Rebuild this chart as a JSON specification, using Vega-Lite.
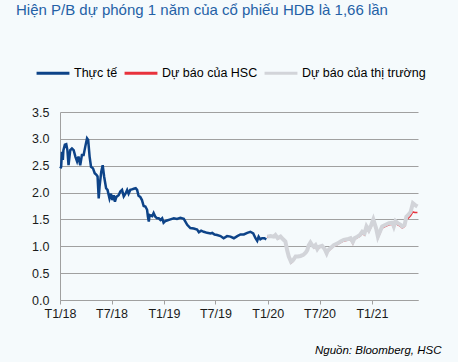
{
  "$schema": "https://vega.github.io/schema/vega-lite/v6.json",
  "width": 358,
  "height": 188,
  "autosize": {"type": "none"},
  "padding": {"left": 60, "top": 112, "right": 40, "bottom": 62},
  "background": "#f5fafc",
  "title": {
    "text": "Hiện P/B  dự phóng 1 năm của cổ phiếu HDB là 1,66 lần",
    "anchor": "start",
    "frame": "group",
    "dx": -44,
    "offset": 25,
    "baseline": "alphabetic",
    "font": "Liberation Sans",
    "fontSize": 15,
    "fontWeight": "normal",
    "color": "#2461a6"
  },
  "config": {
    "font": "Liberation Sans",
    "view": {"stroke": null}
  },
  "data": {
    "values": [
      {"d": "2018-01-02", "s": "Thực tế", "v": 2.45},
      {"d": "2018-01-05", "s": "Thực tế", "v": 2.48},
      {"d": "2018-01-08", "s": "Thực tế", "v": 2.76},
      {"d": "2018-01-11", "s": "Thực tế", "v": 2.61},
      {"d": "2018-01-13", "s": "Thực tế", "v": 2.79},
      {"d": "2018-01-18", "s": "Thực tế", "v": 2.89},
      {"d": "2018-01-23", "s": "Thực tế", "v": 2.90},
      {"d": "2018-01-27", "s": "Thực tế", "v": 2.79},
      {"d": "2018-01-31", "s": "Thực tế", "v": 2.51},
      {"d": "2018-02-06", "s": "Thực tế", "v": 2.79},
      {"d": "2018-02-12", "s": "Thực tế", "v": 2.82},
      {"d": "2018-02-18", "s": "Thực tế", "v": 2.79},
      {"d": "2018-02-24", "s": "Thực tế", "v": 2.67},
      {"d": "2018-03-02", "s": "Thực tế", "v": 2.58},
      {"d": "2018-03-07", "s": "Thực tế", "v": 2.67},
      {"d": "2018-03-13", "s": "Thực tế", "v": 2.51},
      {"d": "2018-03-19", "s": "Thực tế", "v": 2.70},
      {"d": "2018-03-25", "s": "Thực tế", "v": 2.70},
      {"d": "2018-03-31", "s": "Thực tế", "v": 2.86},
      {"d": "2018-04-06", "s": "Thực tế", "v": 3.01},
      {"d": "2018-04-10", "s": "Thực tế", "v": 2.98},
      {"d": "2018-04-15", "s": "Thực tế", "v": 2.67},
      {"d": "2018-04-20", "s": "Thực tế", "v": 2.48},
      {"d": "2018-04-27", "s": "Thực tế", "v": 2.45},
      {"d": "2018-05-03", "s": "Thực tế", "v": 2.36},
      {"d": "2018-05-09", "s": "Thực tế", "v": 2.33},
      {"d": "2018-05-13", "s": "Thực tế", "v": 2.30},
      {"d": "2018-05-17", "s": "Thực tế", "v": 1.89},
      {"d": "2018-05-20", "s": "Thực tế", "v": 2.11},
      {"d": "2018-05-26", "s": "Thực tế", "v": 2.39},
      {"d": "2018-05-31", "s": "Thực tế", "v": 2.51},
      {"d": "2018-06-05", "s": "Thực tế", "v": 2.30},
      {"d": "2018-06-12", "s": "Thực tế", "v": 2.08},
      {"d": "2018-06-17", "s": "Thực tế", "v": 2.05},
      {"d": "2018-06-24", "s": "Thực tế", "v": 1.89},
      {"d": "2018-06-29", "s": "Thực tế", "v": 1.98},
      {"d": "2018-07-04", "s": "Thực tế", "v": 1.86},
      {"d": "2018-07-09", "s": "Thực tế", "v": 1.95},
      {"d": "2018-07-13", "s": "Thực tế", "v": 1.83},
      {"d": "2018-07-18", "s": "Thực tế", "v": 1.92},
      {"d": "2018-07-26", "s": "Thực tế", "v": 1.95},
      {"d": "2018-08-01", "s": "Thực tế", "v": 2.02},
      {"d": "2018-08-07", "s": "Thực tế", "v": 2.05},
      {"d": "2018-08-13", "s": "Thực tế", "v": 1.93},
      {"d": "2018-08-19", "s": "Thực tế", "v": 1.98},
      {"d": "2018-08-25", "s": "Thực tế", "v": 2.05},
      {"d": "2018-08-30", "s": "Thực tế", "v": 1.98},
      {"d": "2018-09-05", "s": "Thực tế", "v": 2.05},
      {"d": "2018-09-11", "s": "Thực tế", "v": 2.06},
      {"d": "2018-09-17", "s": "Thực tế", "v": 2.07},
      {"d": "2018-09-24", "s": "Thực tế", "v": 2.08},
      {"d": "2018-09-29", "s": "Thực tế", "v": 2.05},
      {"d": "2018-10-04", "s": "Thực tế", "v": 1.94},
      {"d": "2018-10-10", "s": "Thực tế", "v": 1.92},
      {"d": "2018-10-16", "s": "Thực tế", "v": 1.86},
      {"d": "2018-10-22", "s": "Thực tế", "v": 1.75},
      {"d": "2018-10-28", "s": "Thực tế", "v": 1.74},
      {"d": "2018-11-03", "s": "Thực tế", "v": 1.68},
      {"d": "2018-11-06", "s": "Thực tế", "v": 1.55},
      {"d": "2018-11-09", "s": "Thực tế", "v": 1.46},
      {"d": "2018-11-12", "s": "Thực tế", "v": 1.58},
      {"d": "2018-11-21", "s": "Thực tế", "v": 1.56},
      {"d": "2018-11-26", "s": "Thực tế", "v": 1.62},
      {"d": "2018-12-02", "s": "Thực tế", "v": 1.55},
      {"d": "2018-12-08", "s": "Thực tế", "v": 1.52},
      {"d": "2018-12-14", "s": "Thực tế", "v": 1.52},
      {"d": "2018-12-20", "s": "Thực tế", "v": 1.49},
      {"d": "2018-12-26", "s": "Thực tế", "v": 1.52},
      {"d": "2018-12-31", "s": "Thực tế", "v": 1.44},
      {"d": "2019-01-06", "s": "Thực tế", "v": 1.47},
      {"d": "2019-01-12", "s": "Thực tế", "v": 1.48},
      {"d": "2019-01-24", "s": "Thực tế", "v": 1.50},
      {"d": "2019-02-05", "s": "Thực tế", "v": 1.52},
      {"d": "2019-02-16", "s": "Thực tế", "v": 1.51},
      {"d": "2019-02-28", "s": "Thực tế", "v": 1.53},
      {"d": "2019-03-12", "s": "Thực tế", "v": 1.51},
      {"d": "2019-03-24", "s": "Thực tế", "v": 1.40},
      {"d": "2019-04-04", "s": "Thực tế", "v": 1.34},
      {"d": "2019-04-16", "s": "Thực tế", "v": 1.33},
      {"d": "2019-04-28", "s": "Thực tế", "v": 1.31},
      {"d": "2019-05-04", "s": "Thực tế", "v": 1.26},
      {"d": "2019-05-12", "s": "Thực tế", "v": 1.29},
      {"d": "2019-05-21", "s": "Thực tế", "v": 1.27},
      {"d": "2019-06-02", "s": "Thực tế", "v": 1.25},
      {"d": "2019-06-14", "s": "Thực tế", "v": 1.24},
      {"d": "2019-06-20", "s": "Thực tế", "v": 1.25},
      {"d": "2019-06-28", "s": "Thực tế", "v": 1.22},
      {"d": "2019-07-07", "s": "Thực tế", "v": 1.21},
      {"d": "2019-07-19", "s": "Thực tế", "v": 1.19},
      {"d": "2019-07-30", "s": "Thực tế", "v": 1.15},
      {"d": "2019-08-11", "s": "Thực tế", "v": 1.19},
      {"d": "2019-08-23", "s": "Thực tế", "v": 1.18},
      {"d": "2019-09-04", "s": "Thực tế", "v": 1.15},
      {"d": "2019-09-16", "s": "Thực tế", "v": 1.19},
      {"d": "2019-09-27", "s": "Thực tế", "v": 1.22},
      {"d": "2019-10-09", "s": "Thực tế", "v": 1.22},
      {"d": "2019-10-21", "s": "Thực tế", "v": 1.25},
      {"d": "2019-11-01", "s": "Thực tế", "v": 1.27},
      {"d": "2019-11-11", "s": "Thực tế", "v": 1.24},
      {"d": "2019-11-19", "s": "Thực tế", "v": 1.15},
      {"d": "2019-11-25", "s": "Thực tế", "v": 1.10},
      {"d": "2019-11-30", "s": "Thực tế", "v": 1.18},
      {"d": "2019-12-06", "s": "Thực tế", "v": 1.13},
      {"d": "2019-12-12", "s": "Thực tế", "v": 1.15},
      {"d": "2019-12-20", "s": "Thực tế", "v": 1.15},
      {"d": "2019-12-27", "s": "Thực tế", "v": 1.13},

      {"d": "2019-12-30", "s": "Dự báo của thị trường", "v": 1.18},
      {"d": "2020-01-11", "s": "Dự báo của thị trường", "v": 1.19},
      {"d": "2020-01-22", "s": "Dự báo của thị trường", "v": 1.18},
      {"d": "2020-01-28", "s": "Dự báo của thị trường", "v": 1.21},
      {"d": "2020-02-05", "s": "Dự báo của thị trường", "v": 1.15},
      {"d": "2020-02-15", "s": "Dự báo của thị trường", "v": 1.18},
      {"d": "2020-02-24", "s": "Dự báo của thị trường", "v": 1.13},
      {"d": "2020-03-03", "s": "Dự báo của thị trường", "v": 1.09},
      {"d": "2020-03-09", "s": "Dự báo của thị trường", "v": 0.93},
      {"d": "2020-03-15", "s": "Dự báo của thị trường", "v": 0.81},
      {"d": "2020-03-23", "s": "Dự báo của thị trường", "v": 0.71},
      {"d": "2020-03-30", "s": "Dự báo của thị trường", "v": 0.74},
      {"d": "2020-04-08", "s": "Dự báo của thị trường", "v": 0.81},
      {"d": "2020-04-16", "s": "Dự báo của thị trường", "v": 0.81},
      {"d": "2020-04-25", "s": "Dự báo của thị trường", "v": 0.82},
      {"d": "2020-05-05", "s": "Dự báo của thị trường", "v": 0.84},
      {"d": "2020-05-13", "s": "Dự báo của thị trường", "v": 0.88},
      {"d": "2020-05-19", "s": "Dự báo của thị trường", "v": 0.93},
      {"d": "2020-05-24", "s": "Dự báo của thị trường", "v": 1.02},
      {"d": "2020-05-30", "s": "Dự báo của thị trường", "v": 1.07},
      {"d": "2020-06-05", "s": "Dự báo của thị trường", "v": 1.02},
      {"d": "2020-06-11", "s": "Dự báo của thị trường", "v": 0.99},
      {"d": "2020-06-17", "s": "Dự báo của thị trường", "v": 1.02},
      {"d": "2020-06-23", "s": "Dự báo của thị trường", "v": 0.95},
      {"d": "2020-06-28", "s": "Dự báo của thị trường", "v": 0.99},
      {"d": "2020-07-04", "s": "Dự báo của thị trường", "v": 1.00},
      {"d": "2020-07-10", "s": "Dự báo của thị trường", "v": 1.01},
      {"d": "2020-07-19", "s": "Dự báo của thị trường", "v": 0.95},
      {"d": "2020-07-26", "s": "Dự báo của thị trường", "v": 0.87},
      {"d": "2020-07-30", "s": "Dự báo của thị trường", "v": 0.92},
      {"d": "2020-08-09", "s": "Dự báo của thị trường", "v": 0.97},
      {"d": "2020-08-20", "s": "Dự báo của thị trường", "v": 1.02},
      {"d": "2020-09-01", "s": "Dự báo của thị trường", "v": 1.05},
      {"d": "2020-09-13", "s": "Dự báo của thị trường", "v": 1.09},
      {"d": "2020-09-24", "s": "Dự báo của thị trường", "v": 1.12},
      {"d": "2020-10-06", "s": "Dự báo của thị trường", "v": 1.13},
      {"d": "2020-10-18", "s": "Dự báo của thị trường", "v": 1.15},
      {"d": "2020-10-26", "s": "Dự báo của thị trường", "v": 1.08},
      {"d": "2020-11-01", "s": "Dự báo của thị trường", "v": 1.15},
      {"d": "2020-11-11", "s": "Dự báo của thị trường", "v": 1.18},
      {"d": "2020-11-20", "s": "Dự báo của thị trường", "v": 1.21},
      {"d": "2020-11-28", "s": "Dự báo của thị trường", "v": 1.27},
      {"d": "2020-12-06", "s": "Dự báo của thị trường", "v": 1.24},
      {"d": "2020-12-13", "s": "Dự báo của thị trường", "v": 1.37},
      {"d": "2020-12-21", "s": "Dự báo của thị trường", "v": 1.30},
      {"d": "2020-12-30", "s": "Dự báo của thị trường", "v": 1.40},
      {"d": "2021-01-06", "s": "Dự báo của thị trường", "v": 1.50},
      {"d": "2021-01-10", "s": "Dự báo của thị trường", "v": 1.43},
      {"d": "2021-01-16", "s": "Dự báo của thị trường", "v": 1.33},
      {"d": "2021-01-22", "s": "Dự báo của thị trường", "v": 1.18},
      {"d": "2021-01-29", "s": "Dự báo của thị trường", "v": 1.27},
      {"d": "2021-02-06", "s": "Dự báo của thị trường", "v": 1.37},
      {"d": "2021-02-18", "s": "Dự báo của thị trường", "v": 1.40},
      {"d": "2021-03-02", "s": "Dự báo của thị trường", "v": 1.43},
      {"d": "2021-03-14", "s": "Dự báo của thị trường", "v": 1.44},
      {"d": "2021-03-19", "s": "Dự báo của thị trường", "v": 1.37},
      {"d": "2021-03-25", "s": "Dự báo của thị trường", "v": 1.47},
      {"d": "2021-04-02", "s": "Dự báo của thị trường", "v": 1.43},
      {"d": "2021-04-12", "s": "Dự báo của thị trường", "v": 1.40},
      {"d": "2021-04-18", "s": "Dự báo của thị trường", "v": 1.37},
      {"d": "2021-04-26", "s": "Dự báo của thị trường", "v": 1.40},
      {"d": "2021-05-02", "s": "Dự báo của thị trường", "v": 1.55},
      {"d": "2021-05-08", "s": "Dự báo của thị trường", "v": 1.58},
      {"d": "2021-05-17", "s": "Dự báo của thị trường", "v": 1.64},
      {"d": "2021-05-25", "s": "Dự báo của thị trường", "v": 1.80},
      {"d": "2021-06-01", "s": "Dự báo của thị trường", "v": 1.77},
      {"d": "2021-06-10", "s": "Dự báo của thị trường", "v": 1.74},

      {"d": "2019-12-30", "s": "Dự báo của HSC", "v": 1.17},
      {"d": "2020-01-11", "s": "Dự báo của HSC", "v": 1.18},
      {"d": "2020-01-22", "s": "Dự báo của HSC", "v": 1.17},
      {"d": "2020-01-28", "s": "Dự báo của HSC", "v": 1.19},
      {"d": "2020-02-05", "s": "Dự báo của HSC", "v": 1.14},
      {"d": "2020-02-15", "s": "Dự báo của HSC", "v": 1.16},
      {"d": "2020-02-24", "s": "Dự báo của HSC", "v": 1.12},
      {"d": "2020-03-03", "s": "Dự báo của HSC", "v": 1.07},
      {"d": "2020-03-09", "s": "Dự báo của HSC", "v": 0.91},
      {"d": "2020-03-15", "s": "Dự báo của HSC", "v": 0.79},
      {"d": "2020-03-23", "s": "Dự báo của HSC", "v": 0.69},
      {"d": "2020-03-30", "s": "Dự báo của HSC", "v": 0.72},
      {"d": "2020-04-08", "s": "Dự báo của HSC", "v": 0.80},
      {"d": "2020-04-16", "s": "Dự báo của HSC", "v": 0.80},
      {"d": "2020-04-25", "s": "Dự báo của HSC", "v": 0.81},
      {"d": "2020-05-05", "s": "Dự báo của HSC", "v": 0.83},
      {"d": "2020-05-13", "s": "Dự báo của HSC", "v": 0.87},
      {"d": "2020-05-19", "s": "Dự báo của HSC", "v": 0.92},
      {"d": "2020-05-24", "s": "Dự báo của HSC", "v": 1.00},
      {"d": "2020-05-30", "s": "Dự báo của HSC", "v": 1.05},
      {"d": "2020-06-05", "s": "Dự báo của HSC", "v": 1.00},
      {"d": "2020-06-11", "s": "Dự báo của HSC", "v": 0.97},
      {"d": "2020-06-17", "s": "Dự báo của HSC", "v": 1.00},
      {"d": "2020-06-23", "s": "Dự báo của HSC", "v": 0.93},
      {"d": "2020-06-28", "s": "Dự báo của HSC", "v": 0.97},
      {"d": "2020-07-04", "s": "Dự báo của HSC", "v": 0.98},
      {"d": "2020-07-10", "s": "Dự báo của HSC", "v": 0.99},
      {"d": "2020-07-19", "s": "Dự báo của HSC", "v": 0.93},
      {"d": "2020-07-26", "s": "Dự báo của HSC", "v": 0.85},
      {"d": "2020-07-30", "s": "Dự báo của HSC", "v": 0.90},
      {"d": "2020-08-09", "s": "Dự báo của HSC", "v": 0.95},
      {"d": "2020-08-20", "s": "Dự báo của HSC", "v": 1.00},
      {"d": "2020-09-01", "s": "Dự báo của HSC", "v": 1.03},
      {"d": "2020-09-13", "s": "Dự báo của HSC", "v": 1.07},
      {"d": "2020-09-24", "s": "Dự báo của HSC", "v": 1.10},
      {"d": "2020-10-06", "s": "Dự báo của HSC", "v": 1.11},
      {"d": "2020-10-18", "s": "Dự báo của HSC", "v": 1.13},
      {"d": "2020-10-26", "s": "Dự báo của HSC", "v": 1.05},
      {"d": "2020-11-01", "s": "Dự báo của HSC", "v": 1.13},
      {"d": "2020-11-11", "s": "Dự báo của HSC", "v": 1.16},
      {"d": "2020-11-20", "s": "Dự báo của HSC", "v": 1.19},
      {"d": "2020-11-28", "s": "Dự báo của HSC", "v": 1.24},
      {"d": "2020-12-06", "s": "Dự báo của HSC", "v": 1.21},
      {"d": "2020-12-13", "s": "Dự báo của HSC", "v": 1.34},
      {"d": "2020-12-21", "s": "Dự báo của HSC", "v": 1.27},
      {"d": "2020-12-30", "s": "Dự báo của HSC", "v": 1.37},
      {"d": "2021-01-06", "s": "Dự báo của HSC", "v": 1.46},
      {"d": "2021-01-10", "s": "Dự báo của HSC", "v": 1.40},
      {"d": "2021-01-16", "s": "Dự báo của HSC", "v": 1.30},
      {"d": "2021-01-22", "s": "Dự báo của HSC", "v": 1.15},
      {"d": "2021-01-29", "s": "Dự báo của HSC", "v": 1.24},
      {"d": "2021-02-06", "s": "Dự báo của HSC", "v": 1.34},
      {"d": "2021-02-18", "s": "Dự báo của HSC", "v": 1.37},
      {"d": "2021-03-02", "s": "Dự báo của HSC", "v": 1.40},
      {"d": "2021-03-14", "s": "Dự báo của HSC", "v": 1.41},
      {"d": "2021-03-19", "s": "Dự báo của HSC", "v": 1.34},
      {"d": "2021-03-25", "s": "Dự báo của HSC", "v": 1.43},
      {"d": "2021-04-02", "s": "Dự báo của HSC", "v": 1.40},
      {"d": "2021-04-12", "s": "Dự báo của HSC", "v": 1.37},
      {"d": "2021-04-18", "s": "Dự báo của HSC", "v": 1.34},
      {"d": "2021-04-26", "s": "Dự báo của HSC", "v": 1.37},
      {"d": "2021-05-02", "s": "Dự báo của HSC", "v": 1.50},
      {"d": "2021-05-08", "s": "Dự báo của HSC", "v": 1.52},
      {"d": "2021-05-17", "s": "Dự báo của HSC", "v": 1.57},
      {"d": "2021-05-25", "s": "Dự báo của HSC", "v": 1.64},
      {"d": "2021-06-01", "s": "Dự báo của HSC", "v": 1.63},
      {"d": "2021-06-10", "s": "Dự báo của HSC", "v": 1.63}
    ]
  },
  "encoding": {
    "x": {
      "field": "d",
      "type": "temporal",
      "scale": {"type": "utc", "domain": [{"year": 2018, "month": 1, "date": 1, "utc": true}, {"year": 2021, "month": 6, "date": 12, "utc": true}]},
      "axis": {
        "values": [
          {"year": 2018, "month": 1, "date": 1, "utc": true},
          {"year": 2018, "month": 7, "date": 1, "utc": true},
          {"year": 2019, "month": 1, "date": 1, "utc": true},
          {"year": 2019, "month": 7, "date": 1, "utc": true},
          {"year": 2020, "month": 1, "date": 1, "utc": true},
          {"year": 2020, "month": 7, "date": 1, "utc": true},
          {"year": 2021, "month": 1, "date": 1, "utc": true}
        ],
        "labelExpr": "'T' + (utcmonth(datum.value) + 1) + '/' + utcFormat(datum.value, '%y')",
        "grid": false,
        "domainColor": "#a0a0a0",
        "tickColor": "#a0a0a0",
        "tickSize": 4,
        "labelPadding": 3,
        "labelFontSize": 12.5,
        "labelColor": "#1a1a1a",
        "labelFlush": false,
        "title": "Nguồn: Bloomberg, HSC",
        "titleFontStyle": "italic",
        "titleFontWeight": "normal",
        "titleFontSize": 11.5,
        "titleColor": "#000000",
        "titleAlign": "right",
        "titleAnchor": "end",
        "titleBaseline": "alphabetic",
        "titleX": 381,
        "titleY": 53
      }
    },
    "y": {
      "field": "v",
      "type": "quantitative",
      "scale": {"domain": [0, 3.5]},
      "axis": {
        "values": [0, 0.5, 1, 1.5, 2, 2.5, 3, 3.5],
        "format": ".1f",
        "title": null,
        "ticks": false,
        "labelPadding": 11,
        "labelFontSize": 12.5,
        "labelColor": "#1a1a1a",
        "domainColor": "#a0a0a0",
        "gridColor": "#a0a0a0",
        "gridOpacity": 1,
        "gridWidth": 1
      }
    },
    "color": {
      "field": "s",
      "type": "nominal",
      "scale": {
        "domain": ["Thực tế", "Dự báo của HSC", "Dự báo của thị trường"],
        "range": ["#0d4388", "#e8323c", "#d2d4d9"]
      },
      "legend": {
        "title": null,
        "orient": "none",
        "legendX": -25,
        "legendY": -57,
        "direction": "horizontal",
        "symbolType": "stroke",
        "symbolSize": 1080,
        "symbolStrokeWidth": 3,
        "labelFontSize": 12.5,
        "labelColor": "#000000",
        "labelOffset": 3,
        "columnPadding": 0
      }
    }
  },
  "layer": [
    {"transform": [{"filter": "datum.s === 'Dự báo của HSC'"}], "mark": {"type": "line", "strokeWidth": 1.5}},
    {"transform": [{"filter": "datum.s === 'Dự báo của thị trường'"}], "mark": {"type": "line", "strokeWidth": 4}},
    {"transform": [{"filter": "datum.s === 'Thực tế'"}], "mark": {"type": "line", "strokeWidth": 2.5}}
  ]
}
